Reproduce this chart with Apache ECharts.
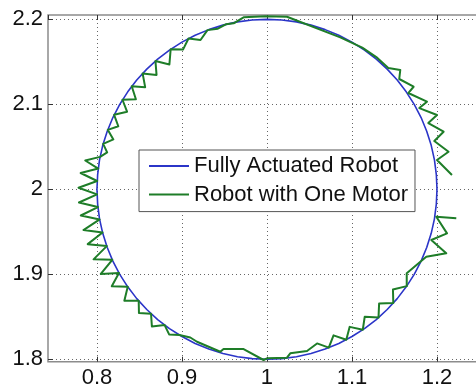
<!DOCTYPE html>
<html>
<head>
<meta charset="utf-8">
<script src="https://cdn.jsdelivr.net/npm/echarts@6/dist/echarts.min.js"></script>
<style>
  html, body { margin: 0; padding: 0; background: #fff; }
  #chart { width: 476px; height: 387px; }
</style>
</head>
<body>
<div id="chart"></div>
<script>
// Legend entries
const seriesNames = ['Fully Actuated Robot', 'Robot with One Motor'];

// Axis ranges (x, y)
const xRange = [0.7424, 1.26];
const yRange = [1.7972, 2.2051];

// Reference path of the fully actuated robot: circle of radius 0.2 around (1, 2), every 5 degrees
const fullyActuated = [
  [1.2, 2], [1.1992, 2.0174], [1.1970, 2.0347], [1.1932, 2.0518], [1.1879, 2.0684], [1.1813, 2.0845],
  [1.1732, 2.1], [1.1638, 2.1147], [1.1532, 2.1286], [1.1414, 2.1414], [1.1286, 2.1532], [1.1147, 2.1638],
  [1.1, 2.1732], [1.0845, 2.1813], [1.0684, 2.1879], [1.0518, 2.1932], [1.0347, 2.1970], [1.0174, 2.1992],
  [1, 2.2], [0.9826, 2.1992], [0.9653, 2.1970], [0.9482, 2.1932], [0.9316, 2.1879], [0.9155, 2.1813],
  [0.9, 2.1732], [0.8853, 2.1638], [0.8714, 2.1532], [0.8586, 2.1414], [0.8468, 2.1286], [0.8362, 2.1147],
  [0.8268, 2.1], [0.8187, 2.0845], [0.8121, 2.0684], [0.8068, 2.0518], [0.8030, 2.0347], [0.8008, 2.0174],
  [0.8, 2], [0.8008, 1.9826], [0.8030, 1.9653], [0.8068, 1.9482], [0.8121, 1.9316], [0.8187, 1.9155],
  [0.8268, 1.9], [0.8362, 1.8853], [0.8468, 1.8714], [0.8586, 1.8586], [0.8714, 1.8468], [0.8853, 1.8362],
  [0.9, 1.8268], [0.9155, 1.8187], [0.9316, 1.8121], [0.9482, 1.8068], [0.9653, 1.8030], [0.9826, 1.8008],
  [1, 1.8], [1.0174, 1.8008], [1.0347, 1.8030], [1.0518, 1.8068], [1.0684, 1.8121], [1.0845, 1.8187],
  [1.1, 1.8268], [1.1147, 1.8362], [1.1286, 1.8468], [1.1414, 1.8586], [1.1532, 1.8714], [1.1638, 1.8853],
  [1.1732, 1.9], [1.1813, 1.9155], [1.1879, 1.9316], [1.1932, 1.9482], [1.1970, 1.9653], [1.1992, 1.9826],
  [1.2, 2]
];

// One-motor robot trajectory, piece by piece (counter-clockwise)
const oneMotorUpperRight = [
  [1.2176, 2.0168], [1.2000, 2.0345], [1.2136, 2.0442], [1.1968, 2.0568], [1.2078, 2.0678],
  [1.1898, 2.0780], [1.2000, 2.0874], [1.1792, 2.0956], [1.1882, 2.1031], [1.1662, 2.1133],
  [1.1725, 2.1207], [1.1556, 2.1298], [1.1568, 2.1404], [1.1427, 2.1427], [1.1286, 2.1556],
  [1.1121, 2.1668], [1.0862, 2.1788], [1.0235, 2.2031], [0.9980, 2.2035], [0.9725, 2.2024],
  [0.9607, 2.1953]
];
const oneMotorUpperLeft = [
  [0.9516, 2.1941], [0.9422, 2.1890], [0.9300, 2.1873], [0.9218, 2.1757], [0.9077, 2.1774],
  [0.9012, 2.1644], [0.8867, 2.1648], [0.8852, 2.1469], [0.8688, 2.1509], [0.8701, 2.1346],
  [0.8537, 2.1364], [0.8567, 2.1202], [0.8409, 2.1212], [0.8458, 2.1060], [0.8300, 2.1054],
  [0.8354, 2.0913], [0.8202, 2.0877], [0.8251, 2.0742], [0.8127, 2.0700], [0.8193, 2.0587],
  [0.8073, 2.0535], [0.8120, 2.0434], [0.8037, 2.0382]
];
const oneMotorLeft = [
  [0.7862, 2.0339], [0.8015, 2.0244], [0.7808, 2.0192], [0.8002, 2.0098], [0.7783, 2.0019],
  [0.8001, 1.9941], [0.7788, 1.9845], [0.8011, 1.9791], [0.7810, 1.9692], [0.8032, 1.9646],
  [0.7841, 1.9521], [0.8066, 1.9493], [0.7891, 1.9355], [0.8115, 1.9332], [0.7960, 1.9176],
  [0.8180, 1.9171], [0.8045, 1.9004], [0.8259, 1.9015], [0.8174, 1.8859], [0.8362, 1.8853],
  [0.8322, 1.8689], [0.8491, 1.8688], [0.8494, 1.8545], [0.8636, 1.8537], [0.8646, 1.8387],
  [0.8796, 1.8403]
];
const oneMotorBottom = [
  [0.8849, 1.8293], [0.8970, 1.8286], [0.9098, 1.8257], [0.9177, 1.8207], [0.9451, 1.8089],
  [0.9489, 1.8121], [0.9725, 1.8121], [0.9960, 1.7992], [1.0000, 1.8012], [1.0235, 1.8019],
  [1.0274, 1.8071], [1.0471, 1.8098]
];
const oneMotorLowerRight = [
  [1.0589, 1.8187], [1.0727, 1.8137], [1.0783, 1.8282], [1.0933, 1.8231], [1.0973, 1.8382],
  [1.1127, 1.8348], [1.1150, 1.8502], [1.1312, 1.8491], [1.1319, 1.8657], [1.1486, 1.8662],
  [1.1482, 1.8821], [1.1644, 1.8861], [1.1644, 1.9012], [1.1874, 1.9207], [1.2109, 1.9247],
  [1.1933, 1.9404], [1.2118, 1.9482], [1.1992, 1.9678], [1.2227, 1.9659]
];
const oneMotorPath = [].concat(
  oneMotorUpperRight, oneMotorUpperLeft, oneMotorLeft, oneMotorBottom, oneMotorLowerRight
);

const FONT = '"Liberation Sans", Arial, Helvetica, sans-serif';
const BLUE = '#2b35c8';
const GREEN = '#1e7d28';

const chart = echarts.init(document.getElementById('chart'), null, { renderer: 'canvas' });

const tickStyle = { inside: true, length: 5, lineStyle: { color: '#333', width: 1 } };
const gridLines = {
  show: true, showMinLine: false, showMaxLine: false,
  lineStyle: { color: '#666', width: 1, type: [1, 3] }
};
const labelStyle = {
  fontSize: 22, color: '#111', fontFamily: FONT, margin: 5,
  showMinLabel: false, showMaxLabel: false
};

chart.setOption({
  animation: false,
  backgroundColor: '#fff',
  grid: {
    left: 48, top: 15, right: -12, bottom: 25.3,
    show: true, borderColor: '#8c8c8c', borderWidth: 1.5, backgroundColor: '#fff',
    containLabel: false, outerBoundsMode: 'none'
  },
  xAxis: [
    {
      type: 'value', min: xRange[0], max: xRange[1], position: 'bottom',
      axisLine: { show: false, onZero: false },
      axisTick: tickStyle, axisLabel: labelStyle, splitLine: gridLines
    },
    {
      type: 'value', min: xRange[0], max: xRange[1], position: 'top',
      axisLine: { show: false, onZero: false },
      axisTick: tickStyle, axisLabel: { show: false }, splitLine: { show: false }
    }
  ],
  yAxis: [
    {
      type: 'value', min: yRange[0], max: yRange[1], position: 'left',
      axisLine: { show: false, onZero: false },
      axisTick: tickStyle, axisLabel: labelStyle, splitLine: gridLines
    }
  ],
  legend: {
    data: seriesNames,
    orient: 'vertical',
    left: 139, top: 150,
    padding: [5, 7, 6, 9],
    itemWidth: 40, itemHeight: 14, itemGap: 6.6,
    backgroundColor: '#fff', borderColor: '#555', borderWidth: 1, borderRadius: 0,
    // plain line samples, no marker dot
    itemStyle: { opacity: 0 },
    lineStyle: { opacity: 1 },
    textStyle: { fontSize: 22, color: '#111', fontFamily: FONT, lineHeight: 22 }
  },
  series: [
    {
      name: seriesNames[0], type: 'line', data: fullyActuated,
      xAxisIndex: 0, yAxisIndex: 0,
      symbol: 'none', showSymbol: false, z: 2,
      lineStyle: { color: BLUE, width: 1.6 }, itemStyle: { color: BLUE }
    },
    {
      name: seriesNames[1], type: 'line', data: oneMotorPath,
      xAxisIndex: 0, yAxisIndex: 0,
      symbol: 'none', showSymbol: false, z: 3,
      lineStyle: { color: GREEN, width: 2, join: 'round' }, itemStyle: { color: GREEN }
    }
  ]
});
</script>
</body>
</html>
